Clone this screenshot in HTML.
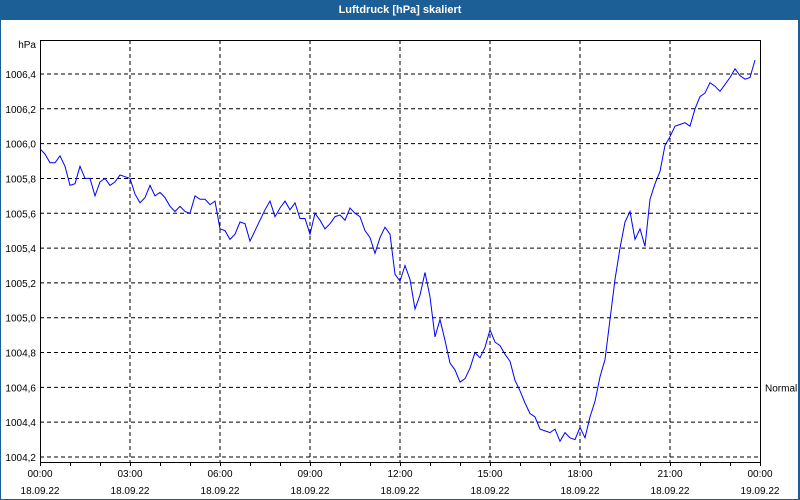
<!DOCTYPE html>
<html><head><meta charset="utf-8"><style>
body{margin:0;background:#fff;font-family:"Liberation Sans",sans-serif}
#wrap{position:relative;width:800px;height:500px;overflow:hidden;background:#fff}
#title{position:absolute;left:0;top:0;width:800px;height:20px;background:#1c5e96;color:#fff;font-weight:bold;font-size:11px;line-height:20px;text-align:center}
#rb{position:absolute;left:798px;top:20px;width:2px;height:480px;background:#1c5e96}
#lb{position:absolute;left:0;top:20px;width:1px;height:480px;background:#1c5e96}
#bb{position:absolute;left:0;top:499px;width:800px;height:1px;background:#1c5e96}
svg{position:absolute;left:0;top:0}
text{font-family:"Liberation Sans",sans-serif;font-size:10px;fill:#000}
</style></head><body>
<div id="wrap">
<div id="title">Luftdruck [hPa] skaliert</div>
<div id="lb"></div>
<div id="rb"></div>
<div id="bb"></div>
<svg id="chart" width="800" height="500"></svg>
</div>
<script>
const yTicks=[1004.2,1004.4,1004.6,1004.8,1005.0,1005.2,1005.4,1005.6,1005.8,1006.0,1006.2,1006.4];
const xTickHours=[0,3,6,9,12,15,18,21,24];
const xTimeLabels=["00:00","03:00","06:00","09:00","12:00","15:00","18:00","21:00","00:00"];
const xDateLabels=["18.09.22","18.09.22","18.09.22","18.09.22","18.09.22","18.09.22","18.09.22","18.09.22","19.09.22"];
const stepMinutes=10;
const pressure=[1005.97,1005.94,1005.89,1005.89,1005.93,1005.87,1005.76,1005.77,1005.87,1005.80,1005.80,1005.70,1005.78,1005.80,1005.76,1005.78,1005.82,1005.81,
1005.80,1005.71,1005.66,1005.69,1005.76,1005.70,1005.72,1005.69,1005.64,1005.61,1005.64,1005.61,1005.60,1005.70,1005.68,1005.68,1005.65,1005.67,
1005.51,1005.50,1005.45,1005.48,1005.55,1005.54,1005.44,1005.50,1005.56,1005.62,1005.67,1005.58,1005.63,1005.67,1005.62,1005.66,1005.57,1005.57,
1005.48,1005.60,1005.56,1005.51,1005.54,1005.58,1005.59,1005.56,1005.63,1005.60,1005.58,1005.50,1005.46,1005.37,1005.46,1005.52,1005.48,1005.25,
1005.21,1005.30,1005.22,1005.05,1005.13,1005.26,1005.12,1004.89,1004.99,1004.87,1004.74,1004.70,1004.63,1004.65,1004.71,1004.80,1004.77,1004.83,
1004.93,1004.86,1004.84,1004.79,1004.75,1004.64,1004.58,1004.51,1004.45,1004.43,1004.36,1004.35,1004.34,1004.36,1004.29,1004.34,1004.31,1004.30,
1004.37,1004.31,1004.43,1004.52,1004.66,1004.76,1004.99,1005.22,1005.40,1005.55,1005.61,1005.45,1005.51,1005.41,1005.68,1005.77,1005.84,1005.99,
1006.04,1006.10,1006.11,1006.12,1006.10,1006.20,1006.27,1006.29,1006.35,1006.33,1006.30,1006.34,1006.38,1006.43,1006.39,1006.37,1006.38,1006.48];
const normalValue=1004.6;

const L=40,R=760,T=40,B=462;
const xs=h=>L+(h/24)*(R-L);
const ys=v=>457-(v-1004.2)*174.1;
const svg=document.getElementById('chart');
const NS='http://www.w3.org/2000/svg';
function mk(tag,attrs){const e=document.createElementNS(NS,tag);for(const k in attrs)e.setAttribute(k,attrs[k]);svg.appendChild(e);return e;}

yTicks.forEach(v=>{
  const g=mk('line',{x1:L,x2:R,y1:ys(v),y2:ys(v),stroke:'#000','stroke-dasharray':'4,3','stroke-width':1});
  
  
  const t=mk('text',{x:36,y:ys(v)+4,'text-anchor':'end'});
  t.textContent=v.toFixed(1).replace('.',',');
  
  
});
xTickHours.forEach((h,i)=>{
  if(h>0&&h<24){
    const g=mk('line',{x1:xs(h),x2:xs(h),y1:T,y2:B,stroke:'#000','stroke-dasharray':'4,3','stroke-width':1});
    
    
  }
  const t=mk('text',{x:xs(h),y:477,'text-anchor':'middle'});
  t.textContent=xTimeLabels[i];
  
  
  const d=mk('text',{x:xs(h),y:494,'text-anchor':'middle'});
  d.textContent=xDateLabels[i];
  
  
});
for(let h=0;h<=24;h++){
  const tk=mk('line',{x1:xs(h)+.5,x2:xs(h)+.5,y1:B,y2:B+4,stroke:'#000'});
  
  
}
const frame=mk('rect',{x:L+.5,y:T+.5,width:R-L,height:B-T,fill:'none',stroke:'#000','stroke-width':1});


const hpa=mk('text',{x:36,y:48,'text-anchor':'end'});
hpa.textContent='hPa';


const nl=mk('text',{x:765,y:ys(normalValue)+4});
nl.textContent='Normal';


const pts=pressure.map((v,i)=>xs(i*stepMinutes/60).toFixed(1)+','+ys(v).toFixed(1)).join(' ');
const line=mk('polyline',{points:pts,fill:'none',stroke:'#0000ff','stroke-width':1});


</script>
</body></html>
